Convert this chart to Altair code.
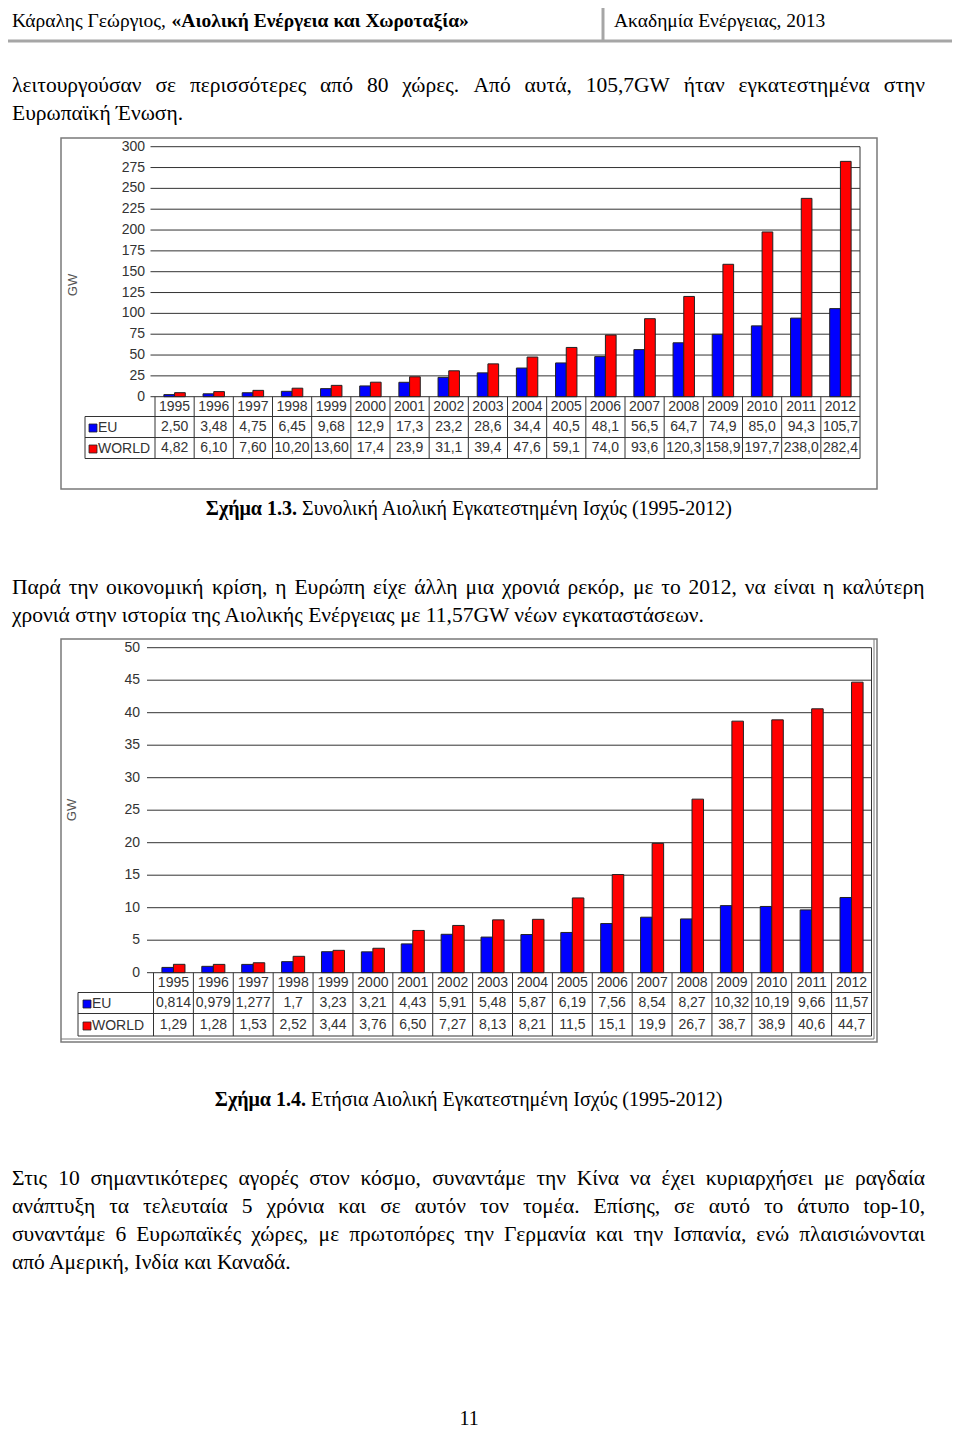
import glob
import os
import struct

import altair as alt
import pandas as pd

# ---------------- data ----------------
years = [str(y) for y in range(1995, 2013)]
series = ["EU", "WORLD"]
series_colors = ["#0000FF", "#FF0000"]

total_eu = ["2,50", "3,48", "4,75", "6,45", "9,68", "12,9", "17,3", "23,2", "28,6",
            "34,4", "40,5", "48,1", "56,5", "64,7", "74,9", "85,0", "94,3", "105,7"]
total_world = ["4,82", "6,10", "7,60", "10,20", "13,60", "17,4", "23,9", "31,1", "39,4",
               "47,6", "59,1", "74,0", "93,6", "120,3", "158,9", "197,7", "238,0", "282,4"]
annual_eu = ["0,814", "0,979", "1,277", "1,7", "3,23", "3,21", "4,43", "5,91", "5,48",
             "5,87", "6,19", "7,56", "8,54", "8,27", "10,32", "10,19", "9,66", "11,57"]
annual_world = ["1,29", "1,28", "1,53", "2,52", "3,44", "3,76", "6,50", "7,27", "8,13",
                "8,21", "11,5", "15,1", "19,9", "26,7", "38,7", "38,9", "40,6", "44,7"]

total_ticks = [0, 25, 50, 75, 100, 125, 150, 175, 200, 225, 250, 275, 300]
annual_ticks = [0, 5, 10, 15, 20, 25, 30, 35, 40, 45, 50]
axis_title = "GW"

header_left = "Κάραλης Γεώργιος, "
header_title = "«Αιολική Ενέργεια και Χωροταξία»"
header_right = "Ακαδημία Ενέργειας, 2013"
para1 = ["λειτουργούσαν σε περισσότερες από 80 χώρες. Από αυτά, 105,7GW ήταν εγκατεστημένα στην",
         "Ευρωπαϊκή Ένωση."]
cap1_label = "Σχήμα 1.3."
cap1_text = "Συνολική Αιολική Εγκατεστημένη Ισχύς (1995-2012)"
para2 = ["Παρά την οικονομική κρίση, η Ευρώπη είχε άλλη μια χρονιά ρεκόρ, με το 2012, να είναι η καλύτερη",
         "χρονιά στην ιστορία της Αιολικής Ενέργειας με 11,57GW νέων εγκαταστάσεων."]
cap2_label = "Σχήμα 1.4."
cap2_text = "Ετήσια Αιολική Εγκατεστημένη Ισχύς (1995-2012)"
para3 = ["Στις 10 σημαντικότερες αγορές στον κόσμο, συναντάμε την Κίνα να έχει κυριαρχήσει με ραγδαία",
         "ανάπτυξη τα τελευταία 5 χρόνια και σε αυτόν τον τομέα.  Επίσης, σε αυτό το άτυπο top-10,",
         "συναντάμε 6 Ευρωπαϊκές χώρες, με πρωτοπόρες την Γερμανία και την Ισπανία, ενώ πλαισιώνονται",
         "από Αμερική, Ινδία και Καναδά."]
page_number = "11"

# ---------------- layout (page pixels) ----------------
W, H = 944, 1421
OX, OY = 8, 8
SERIF = "Liberation Serif"
SANS = "Liberation Sans"
BODY = 21.5
HEAD = 19.5
CAP = 20
TEXT_LEFT, TEXT_RIGHT = 12, 925


def px(x):
    return x - OX


def py(y):
    return y - OY


def to_num(s):
    return float(s.replace(",", "."))


# ---------- minimal font metrics reader (for justified text) ----------
def load_advance_fn(filename):
    paths = []
    for root in ("/usr/share/fonts", "/usr/local/share/fonts", os.path.expanduser("~/.fonts")):
        paths += glob.glob(os.path.join(root, "**", filename), recursive=True)
    if not paths:
        return None
    try:
        data = open(paths[0], "rb").read()
        num_tables = struct.unpack(">H", data[4:6])[0]
        tables = {}
        for i in range(num_tables):
            tag, _, off, ln = struct.unpack(">4sIII", data[12 + 16 * i:28 + 16 * i])
            tables[tag.decode("latin1")] = off
        head = tables["head"]
        upem = struct.unpack(">H", data[head + 18:head + 20])[0]
        hhea = tables["hhea"]
        nhm = struct.unpack(">H", data[hhea + 34:hhea + 36])[0]
        hmtx = tables["hmtx"]
        adv = [struct.unpack(">H", data[hmtx + 4 * i:hmtx + 4 * i + 2])[0] for i in range(nhm)]
        cmap = tables["cmap"]
        nsub = struct.unpack(">H", data[cmap + 2:cmap + 4])[0]
        sub = None
        for i in range(nsub):
            pid, eid, off = struct.unpack(">HHI", data[cmap + 4 + 8 * i:cmap + 12 + 8 * i])
            fmt = struct.unpack(">H", data[cmap + off:cmap + off + 2])[0]
            if fmt == 4 and (pid, eid) in ((3, 1), (0, 3), (0, 4), (0, 1)):
                sub = cmap + off
                break
        if sub is None:
            return None
        seg2 = struct.unpack(">H", data[sub + 6:sub + 8])[0]
        n = seg2 // 2
        ends = struct.unpack(">%dH" % n, data[sub + 14:sub + 14 + seg2])
        sp = sub + 16 + seg2
        starts = struct.unpack(">%dH" % n, data[sp:sp + seg2])
        dp = sp + seg2
        deltas = struct.unpack(">%dh" % n, data[dp:dp + seg2])
        rp = dp + seg2
        ranges = struct.unpack(">%dH" % n, data[rp:rp + seg2])

        def gid(ch):
            c = ord(ch)
            for k in range(n):
                if c <= ends[k]:
                    if c < starts[k]:
                        return 0
                    if ranges[k] == 0:
                        return (c + deltas[k]) & 0xFFFF
                    addr = rp + 2 * k + ranges[k] + 2 * (c - starts[k])
                    g = struct.unpack(">H", data[addr:addr + 2])[0]
                    return (g + deltas[k]) & 0xFFFF if g else 0
            return 0

        def width(text, size):
            return sum(adv[min(gid(ch), nhm - 1)] for ch in text) * size / upem

        return width
    except Exception:
        return None


serif_width = load_advance_fn("LiberationSerif-Regular.ttf")


def one():
    return alt.Data(values=[{"k": 0}])


def text_at(s, x, y, size=BODY, weight="normal", align="left", font=SERIF, color="#000000", angle=0):
    kw = dict(text=s, align=align, baseline="middle", fontSize=size, fontWeight=weight,
              font=font, color=color)
    if angle:
        kw["angle"] = angle
    return alt.Chart(one()).mark_text(**kw).encode(x=alt.value(px(x)), y=alt.value(py(y)))


def paragraph(lines, y0, step):
    """Justified paragraph: every line but the last spans TEXT_LEFT..TEXT_RIGHT."""
    rows = []
    for i, line in enumerate(lines):
        y = y0 + step * i
        words = line.split()
        last = i == len(lines) - 1
        if last or serif_width is None or len(words) < 2:
            rows.append({"w": line, "x": px(TEXT_LEFT), "y": py(y)})
            continue
        widths = [serif_width(w, BODY) for w in words]
        gap = (TEXT_RIGHT - TEXT_LEFT - sum(widths)) / (len(words) - 1)
        x = TEXT_LEFT
        for w, wd in zip(words, widths):
            rows.append({"w": w, "x": px(x), "y": py(y)})
            x += wd + gap
    return alt.Chart(pd.DataFrame(rows)).mark_text(
        align="left", baseline="middle", fontSize=BODY, font=SERIF, color="#000000").encode(
        x=alt.X("x:Q", scale=None, axis=None), y=alt.Y("y:Q", scale=None, axis=None), text="w:N")


def line_at(x1, y1, x2, y2, color="#333333", width=1.0):
    return alt.Chart(one()).mark_rule(color=color, strokeWidth=width).encode(
        x=alt.value(px(x1)), y=alt.value(py(y1)), x2=alt.value(px(x2)), y2=alt.value(py(y2)))


color_scale = alt.Scale(domain=series, range=series_colors)


def build_chart(eu_labels, world_labels, ticks, L):
    eu_vals = [to_num(s) for s in eu_labels]
    world_vals = [to_num(s) for s in world_labels]
    bars_df = pd.DataFrame(
        [{"year": y, "series": "EU", "value": v} for y, v in zip(years, eu_vals)]
        + [{"year": y, "series": "WORLD", "value": v} for y, v in zip(years, world_vals)])
    table_df = pd.DataFrame({"year": years, "eu": eu_labels, "world": world_labels})
    ticks_df = pd.DataFrame({"tick": ticks})

    xs = alt.Scale(domain=years, range=[px(L["left"]), px(L["right"])], paddingInner=0, paddingOuter=0)
    ys = alt.Scale(domain=[0, ticks[-1]], range=[py(L["y0"]), py(L["ytop"])], nice=False)
    xo = alt.Scale(domain=series, paddingInner=0, paddingOuter=L["po"])

    fx0, fy0, fx1, fy1 = L["frame"]
    frame = [alt.Chart(one()).mark_rect(fillOpacity=0, stroke="#7a7a7a", strokeWidth=1.5).encode(
        x=alt.value(px(fx0)), x2=alt.value(px(fx1)), y=alt.value(py(fy0)), y2=alt.value(py(fy1)))]
    if L["double"]:
        frame.append(line_at(fx1 - 3, fy0, fx1 - 3, fy1 - 3, color="#7a7a7a", width=1))
        frame.append(line_at(fx0, fy1 - 3, fx1 - 3, fy1 - 3, color="#7a7a7a", width=1))

    grid = alt.Chart(ticks_df).mark_rule(color="#333333", strokeWidth=1).encode(
        y=alt.Y("tick:Q", scale=ys, axis=None),
        x=alt.value(px(L["tick_x0"])), x2=alt.value(px(L["right"])))

    tick_labels = alt.Chart(ticks_df).mark_text(
        align="right", baseline="middle", fontSize=14, font=SANS, color="#333333").encode(
        y=alt.Y("tick:Q", scale=ys, axis=None), x=alt.value(px(L["label_x"])), text="tick:Q")

    bars = alt.Chart(bars_df).mark_bar(stroke="#222222", strokeWidth=1).encode(
        x=alt.X("year:N", scale=xs, axis=None),
        xOffset=alt.XOffset("series:N", scale=xo),
        y=alt.Y("value:Q", scale=ys, axis=None),
        color=alt.Color("series:N", scale=color_scale, legend=None))

    r0, r1, r2, r3 = L["rows"]
    right_border = line_at(L["right"], L["ytop"], L["right"], r3)
    h_lines = [line_at(L["label_left"], r, L["right"], r) for r in (r1, r2, r3)]
    left_line = line_at(L["label_left"], r1, L["label_left"], r3)
    v_lines = alt.Chart(table_df).mark_rule(color="#333333", strokeWidth=1).encode(
        x=alt.X("year:N", scale=xs, axis=None, bandPosition=0),
        y=alt.value(py(r0)), y2=alt.value(py(r3)))

    t0, t1, t2 = L["row_text"]
    cell = dict(align="center", baseline="middle", fontSize=14, font=SANS, color="#333333")
    year_text = alt.Chart(table_df).mark_text(**cell).encode(
        x=alt.X("year:N", scale=xs, axis=None), y=alt.value(py(t0)), text="year:N")
    eu_text = alt.Chart(table_df).mark_text(**cell).encode(
        x=alt.X("year:N", scale=xs, axis=None), y=alt.value(py(t1)), text="eu:N")
    world_text = alt.Chart(table_df).mark_text(**cell).encode(
        x=alt.X("year:N", scale=xs, axis=None), y=alt.value(py(t2)), text="world:N")

    sx0, sx1 = L["swatch_x"]
    swatches = []
    for s, t in zip(series, (t1, t2)):
        swatches.append(
            alt.Chart(pd.DataFrame({"series": [s]})).mark_rect(stroke="#222222", strokeWidth=0.8).encode(
                x=alt.value(px(sx0)), x2=alt.value(px(sx1)),
                y=alt.value(py(t - 3)), y2=alt.value(py(t + 5)),
                color=alt.Color("series:N", scale=color_scale, legend=None)))
        swatches.append(text_at(s, L["text_x"], t + 0.5, size=14, font=SANS, color="#333333"))

    gw = text_at(axis_title, L["gw"][0], L["gw"][1], size=13, font=SANS, color="#555555", angle=270,
                 align="center")

    return alt.layer(*frame, grid, right_border, bars, tick_labels, gw, v_lines, *h_lines, left_line,
                     year_text, eu_text, world_text, *swatches)


L1 = dict(frame=(61, 138, 877, 489), left=155, right=860, y0=396.7, ytop=146.7,
          tick_x0=150.5, label_x=145, gw=(73, 285), rows=[396.7, 416.5, 437.5, 458.5],
          label_left=85, row_text=[406.5, 427, 448], po=0.83, swatch_x=(89, 97), text_x=98,
          double=False)
L2 = dict(frame=(61, 639, 877, 1042), left=153.5, right=871.5, y0=972.7, ytop=647.7,
          tick_x0=147, label_x=140, gw=(72, 810), rows=[972.7, 992.5, 1013.5, 1036],
          label_left=78, row_text=[982.5, 1003, 1025], po=0.73, swatch_x=(83, 91), text_x=92,
          double=True)

chart1 = build_chart(total_eu, total_world, total_ticks, L1)
chart2 = build_chart(annual_eu, annual_world, annual_ticks, L2)

# ---------------- document text ----------------
title_x = 12 + serif_width(header_left, HEAD) if serif_width else 173

doc = [
    line_at(8, 41, 952, 41, color="#a6a6a6", width=3),
    line_at(603, 3, 603, 41, color="#a6a6a6", width=3),
    text_at(header_left, 12, 21, size=HEAD),
    text_at(header_title, title_x, 21, size=HEAD, weight="bold"),
    text_at(header_right, 614, 21, size=HEAD),
    paragraph(para1, 86, 28),
    text_at(cap1_label, 297, 509, size=CAP, weight="bold", align="right"),
    text_at(cap1_text, 302, 509, size=CAP),
    paragraph(para2, 588, 27.5),
    text_at(cap2_label, 306, 1100, size=CAP, weight="bold", align="right"),
    text_at(cap2_text, 311, 1100, size=CAP),
    paragraph(para3, 1179, 28),
    text_at(page_number, 469, 1419, size=20, align="center"),
]

chart = alt.layer(*doc, chart1, chart2).resolve_scale(
    x="independent", y="independent", xOffset="independent"
).properties(
    width=W, height=H, padding=0, autosize=alt.AutoSizeParams(type="none")
).configure_view(stroke=None)

chart.save("out.html", embed_options={"renderer": "svg", "actions": False})
